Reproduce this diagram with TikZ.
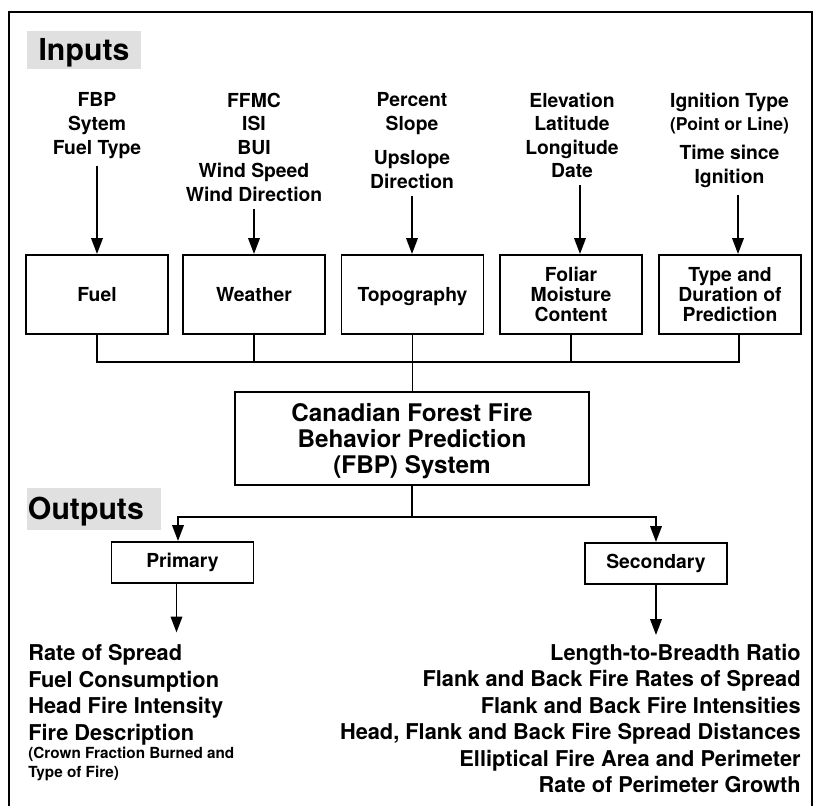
\documentclass[tikz,border=0pt]{standalone}
\usepackage{fontspec}
\setmainfont{TeX Gyre Heros}
\usetikzlibrary{arrows.meta}

\begin{document}
\begin{tikzpicture}[line join=miter,
  every node/.style={font=\bfseries},
  title/.style={fill=black!12, inner sep=0pt, text height=12.4pt, text depth=0pt,
    font=\fontsize{17.2}{20}\selectfont\bfseries},
  inlbl/.style={anchor=north, inner sep=0pt, align=center,
    font=\fontsize{11}{13.4}\selectfont\bfseries},
  inbox/.style={draw, line width=1.1pt, minimum width=2.84cm, minimum height=1.58cm,
    inner sep=2pt, align=center, font=\fontsize{11}{11.3}\selectfont\bfseries},
  outbox/.style={draw, line width=1.1pt, minimum width=2.84cm, minimum height=0.82cm,
    inner sep=2pt, font=\fontsize{11}{13}\selectfont\bfseries},
  link/.style={line width=1.1pt},
  arr/.style={line width=1.1pt, -{Triangle[length=9pt,width=6.5pt]}}]
  \useasboundingbox (0,0) rectangle (16.30,-16.12);
  % frame
  \draw[line width=1.1pt] (0.18,-16.12) -- (0.18,-0.24) -- (16.24,-0.24) -- (16.24,-16.12);

  % inputs
  \node[title, minimum width=2.28cm, minimum height=0.76cm] (inputs) at (1.68,-1.00) {Inputs};
  \node[inlbl] (fbplbl) at (1.94,-1.85) {FBP\\ Sytem\\ Fuel Type};
  \node[inlbl] (wxlbl) at (5.08,-1.85) {FFMC\\ ISI\\ BUI\\ Wind Speed\\ Wind Direction};
  \node[inlbl] (topolbl) at (8.24,-1.85) {Percent\\ Slope\\[6pt] Upslope\\ Direction};
  \node[inlbl] (elevlbl) at (11.44,-1.85) {Elevation\\ Latitude\\ Longitude\\ Date};
  \node[inlbl] (ignlbl) at (14.59,-1.85)
    {Ignition Type\\ {\fontsize{10}{12}\selectfont (Point or Line)}\\[3pt] Time since\\ Ignition};

  \node[inbox] (fuel) at (1.94,-5.89) {Fuel};
  \node[inbox] (weather) at (5.08,-5.89) {Weather};
  \node[inbox, text depth=0pt] (topo) at (8.25,-5.89) {Topography};
  \node[inbox] (foliar) at (11.42,-5.89) {Foliar\\ Moisture\\ Content};
  \node[inbox] (duration) at (14.60,-5.89) {Type and\\ Duration of\\ Prediction};

  \draw[arr, shorten <=4pt] (fbplbl.south) -- (fuel.north);
  \draw[arr, shorten <=4pt] (wxlbl.south) -- (wxlbl.south |- weather.north);
  \draw[arr, shorten <=4pt] (topolbl.south) -- (topolbl.south |- topo.north);
  \draw[arr, shorten <=4pt] ([xshift=0.16cm]elevlbl.south) -- ([xshift=0.16cm]elevlbl.south |- foliar.north);
  \draw[arr, shorten <=4pt] ([xshift=0.17cm]ignlbl.south) -- ([xshift=0.17cm]ignlbl.south |- duration.north);

  % system
  \node[draw, line width=1.1pt, minimum width=7.08cm, minimum height=1.86cm, align=center,
    text depth=0pt, font=\fontsize{13.8}{14.7}\selectfont\bfseries] (fbp) at (8.24,-8.77)
    {Canadian Forest Fire\\ Behavior Prediction\\ (FBP) System};
  \coordinate (bar) at (0,-7.24);
  \draw[link] (fuel.south) -- (fuel.south |- bar) -- ([xshift=0.18cm]duration.south |- bar)
    -- ([xshift=0.18cm]duration.south);
  \draw[link] (weather.south) -- (weather.south |- bar);
  \draw[link] (foliar.south) -- (foliar.south |- bar);
  \draw[link] (topo.south) -- (topo.south |- fbp.north);

  % outputs
  \node[title, minimum height=0.84cm, text width=2.64cm, inner xsep=0.02cm, align=left]
    (outputs) at (1.88,-10.18) {Outputs};
  \node[outbox] (primary) at (3.65,-11.25) {Primary};
  \node[outbox] (secondary) at (13.12,-11.27) {Secondary};
  \draw[arr] (fbp.south) -- ++(0,-0.62) -| ([xshift=-0.09cm]primary.north);
  \draw[arr] (fbp.south) -- ++(0,-0.62) -| (secondary.north);

  \node[anchor=north west, inner sep=0pt, align=left, font=\fontsize{12.4}{15}\selectfont\bfseries]
    (primout) at (0.56,-12.89)
    {Rate of Spread\\ Fuel Consumption\\ Head Fire Intensity\\ Fire Description};
  \node[anchor=north west, inner sep=0pt, align=left, font=\fontsize{8.7}{10.8}\selectfont\bfseries]
    (primnote) at (0.56,-14.94) {(Crown Fraction Burned and\\ Type of Fire)};
  \node[anchor=north east, inner sep=0pt, align=right, font=\fontsize{12.4}{15}\selectfont\bfseries]
    (secout) at (16.02,-12.88)
    {Length-to-Breadth Ratio\\ Flank and Back Fire Rates of Spread\\ Flank and Back Fire Intensities\\
     Head, Flank and Back Fire Spread Distances\\ Elliptical Fire Area and Perimeter\\
     Rate of Perimeter Growth};
  \draw[arr, shorten >=0.24cm] ([xshift=-0.12cm]primary.south) -- ([xshift=-0.12cm]primary.south |- primout.north);
  \draw[arr, shorten >=0.18cm] (secondary.south) -- (secondary.south |- secout.north);
\end{tikzpicture}
\end{document}
